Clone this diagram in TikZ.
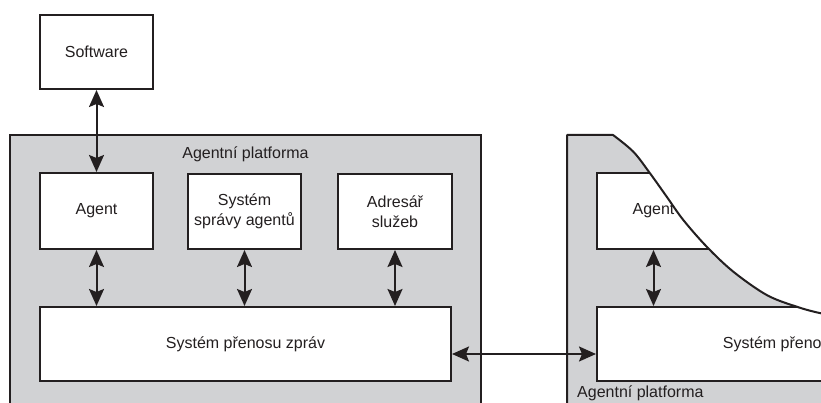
\documentclass[tikz,border=0pt]{standalone}
\usepackage{fontspec}
\setmainfont{Liberation Sans}
\usetikzlibrary{arrows.meta}
\definecolor{platgray}{RGB}{209,210,212}
\definecolor{ink}{RGB}{35,31,32}
\begin{document}
\begin{tikzpicture}[x=1pt,y=-1pt,
  lbl/.style={font=\fontsize{16}{19.5}\selectfont, text=ink, inner sep=0pt},
  box/.style={draw=ink, fill=white, line width=2pt, inner sep=0pt, align=center,
              text=ink, font=\fontsize{16}{19.5}\selectfont},
  platform/.style={draw=ink, fill=platgray, line width=2pt},
  tip/.style={Stealth[length=17pt 0 0, width=15pt 0 0, inset=3pt]},
  dbl/.style={{Stealth[length=17pt 0 0,width=15pt 0 0,inset=3pt]}-{Stealth[length=17pt 0 0,width=15pt 0 0,inset=3pt]},
              line width=2pt, draw=ink, fill=ink}]
\useasboundingbox (0,0) rectangle (821,403);
\clip (0,0) rectangle (821,403);

% ---------- left agent platform ----------
\draw[platform] (10,135) rectangle (481,440);
\node[lbl, anchor=base] (platL) at (245.5,158.8) {Agentní platforma};

\node[box, minimum width=113pt, minimum height=74pt] (sw)   at (96.5,52)    {Software};
\node[box, minimum width=113pt, minimum height=76pt] (agL)  at (96.5,211)   {Agent};
\node[box, minimum width=113pt, minimum height=75pt] (sprL) at (244.5,211.5) {Systém\\správy agentů};
\node[box, minimum width=114pt, minimum height=75pt] (adrL) at (395,211.5)  {Adresář\\služeb};
\node[box, minimum width=411pt, minimum height=74pt] (msgL) at (245.5,344)  {Systém přenosu zpráv};

\draw[dbl] (sw.south) -- (agL.north);
\draw[dbl] (agL.south)  -- (agL.south  |- msgL.north);
\draw[dbl] (sprL.south) -- (sprL.south |- msgL.north);
\draw[dbl] (adrL.south) -- (adrL.south |- msgL.north);

% ---------- right agent platform (torn off) ----------
\fill[platgray] (567,135) rectangle (1040,440);
\node[box, minimum width=113pt, minimum height=76pt] (agR)  at (653.5,211)  {Agent};
\node[box, minimum width=411pt, minimum height=74pt] (msgR) at (802.5,344)  {Systém přenosu zpráv};
\draw[dbl] (agR.south) -- (agR.south |- msgR.north);
\node[lbl, anchor=base west] (platR) at (577,397.5) {Agentní platforma};

% torn edge: everything above the curve is blank
\fill[white] (900,100) -- (613,100) -- plot[smooth, tension=0.55] coordinates {
  (613,135) (633.3,151.7) (650,173.3) (666.7,196.7) (683.3,220) (706.7,246.7)
  (733.3,271.7) (766.7,295) (796.7,306.7) (821,313.3) (850,318)} -- (900,330) -- cycle;
\draw[ink, line width=2pt, line join=round] (567,440) -- (567,135) -- (613,135)
  -- plot[smooth, tension=0.55] coordinates {
  (613,135) (633.3,151.7) (650,173.3) (666.7,196.7) (683.3,220) (706.7,246.7)
  (733.3,271.7) (766.7,295) (796.7,306.7) (821,313.3) (850,318)};

% ---------- link between the two platforms ----------
\draw[dbl] ([yshift=-10pt]msgL.east) -- ([yshift=-10pt]msgR.west);
\end{tikzpicture}
\end{document}
